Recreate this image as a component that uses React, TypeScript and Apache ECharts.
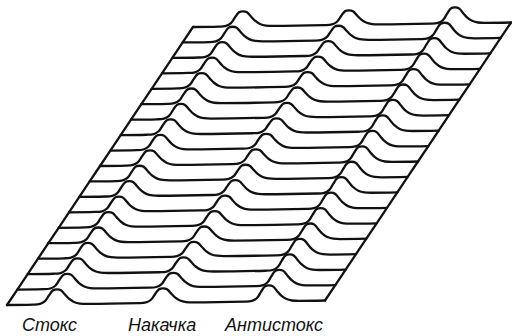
import { useEffect, useRef } from "react";
import * as echarts from "echarts";

// Spectral lines along each trace (position along trace, peak height)
const lineNames = ["Стокс", "Накачка", "Антистокс"];
const peakCentres = [50, 156, 262];
const peakHeights = [15, 14.5, 16];
// Shape of one line (offset from centre, fraction of peak height)
const shapeOffsets = [-24, -17, -12, -8, -4, 0, 4, 8, 12, 17, 23, 30];
const shapeLevels = [0, 0.04, 0.22, 0.6, 0.94, 1, 0.93, 0.64, 0.36, 0.14, 0.03, 0];
const traceLength = 318;
const traceCount = 19;

// oblique projection of the waterfall
const stepX = 186 / 18;
const stepY = 278 / 18;
const baselineRise = 4.5;

function project(u: number, z: number, n: number): number[] {
  return [u + n * stepX, z + n * stepY + (u * baselineRise) / traceLength];
}

function traceData(n: number): number[][] {
  const pts: number[][] = [[0, 0]];
  peakCentres.forEach((c, i) => {
    shapeOffsets.forEach((o, j) => {
      pts.push([c + o, peakHeights[i] * shapeLevels[j]]);
    });
  });
  pts.push([traceLength, 0]);
  return pts.map(([u, z]) => project(u, z, n));
}

export default function App() {
  const ref = useRef<HTMLDivElement>(null);
  useEffect(() => {
    if (!ref.current) return;
    const chart = echarts.init(ref.current, undefined, { renderer: "svg" });
    const lineStyle = { color: "#111", width: 2.3, cap: "round" as const, join: "round" as const };
    const series: any[] = [];
    for (let n = traceCount - 1; n >= 0; n--) {
      series.push({
        type: "line",
        data: traceData(n),
        showSymbol: false,
        smooth: 0.4,
        silent: true,
        lineStyle,
        areaStyle: { color: "#fff", opacity: 1, origin: "start" },
        z: 2,
      });
    }
    const idx = Array.from({ length: traceCount }, (_, n) => n);
    series.push({
      type: "line",
      data: idx.map((n) => project(0, 0, n)),
      showSymbol: false,
      silent: true,
      lineStyle,
      z: 3,
    });
    series.push({
      type: "line",
      data: idx.map((n) => project(traceLength, 0, n)),
      showSymbol: false,
      silent: true,
      lineStyle,
      z: 3,
    });
    const labelLeft = [22, 128, 225];
    chart.setOption({
      animation: false,
      backgroundColor: "#fff",
      grid: { left: 0, top: 0, right: 0, bottom: 0 },
      xAxis: { type: "value", min: -7, max: 505, show: false },
      yAxis: { type: "value", min: -31, max: 305, show: false },
      series,
      graphic: lineNames.map((t, i) => ({
        type: "text",
        x: labelLeft[i],
        y: 316,
        z: 10,
        style: {
          text: t,
          fill: "#111",
          font: 'italic 18px "Liberation Sans", sans-serif',
          lineHeight: 18,
          textAlign: "left",
          textVerticalAlign: "top",
        },
      })),
    });
    return () => chart.dispose();
  }, []);
  return (
    <div
      ref={ref}
      style={{ position: "fixed", left: 0, top: 0, width: 512, height: 336 }}
    />
  );
}
